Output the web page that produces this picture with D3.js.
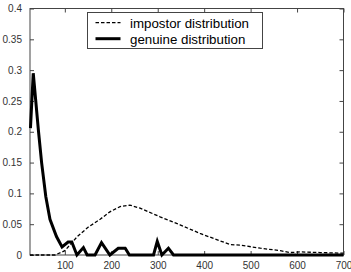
<!DOCTYPE html>
<html>
<head>
<meta charset="utf-8">
<script src="https://cdn.jsdelivr.net/npm/d3@7"></script>
<style>
  body { margin: 0; background: #fff; }
  svg { display: block; font-family: "Liberation Sans", Arial, sans-serif; }
</style>
</head>
<body>
<script>
// impostor distribution (dashed)
var impostorX = [25, 50, 79, 100, 127, 150, 176, 197, 219, 240, 262, 305, 348, 391, 434, 456, 478, 521, 564, 585, 607, 650, 694, 700];
var impostorY = [0, 0, 0, 0.007, 0.03, 0.045, 0.058, 0.07, 0.0785, 0.081, 0.076, 0.062, 0.049, 0.035, 0.023, 0.017, 0.016, 0.011, 0.007, 0.004, 0.005, 0.004, 0.003, 0.003];

// genuine distribution (thick solid)
var genuineX = [26, 32, 43, 50, 59, 68, 82, 94, 107, 115, 126, 140, 148, 165, 179, 197, 215, 230, 239, 291, 299, 309, 323, 334, 700];
var genuineY = [0.206, 0.295, 0.203, 0.15, 0.095, 0.058, 0.03, 0.013, 0.021, 0.021, 0, 0.012, 0, 0, 0.02, 0, 0.011, 0.011, 0, 0, 0.022, 0, 0.011, 0, 0];

var xTicks = [100, 200, 300, 400, 500, 600, 700];
var yTicks = [0, 0.05, 0.1, 0.15, 0.2, 0.25, 0.3, 0.35, 0.4];
var legendLabels = ["impostor distribution", "genuine distribution"];

var width = 351, height = 272;
var margin = {top: 8.5, right: 7.5, bottom: 17, left: 30};

var svg = d3.select("body").append("svg")
  .attr("width", width)
  .attr("height", height);

var x = d3.scaleLinear().domain([25, 700]).range([margin.left, width - margin.right]);
var y = d3.scaleLinear().domain([0, 0.4]).range([height - margin.bottom, margin.top]);

var fmt = function(d) { return d === 0 ? "0" : String(+d.toFixed(2)); };

// box
svg.append("rect")
  .attr("x", x(25)).attr("y", y(0.4))
  .attr("width", x(700) - x(25)).attr("height", y(0) - y(0.4))
  .attr("fill", "none").attr("stroke", "#444").attr("stroke-width", 1);

function styleAxis(g) {
  g.select(".domain").remove();
  g.selectAll(".tick line").attr("stroke", "#444");
  g.selectAll(".tick text").attr("fill", "#333").style("font-size", "10px");
}

svg.append("g")
  .attr("transform", "translate(0," + y(0) + ")")
  .call(d3.axisBottom(x).tickValues(xTicks).tickSize(-4).tickPadding(7).tickFormat(d3.format("d")))
  .call(styleAxis);

svg.append("g")
  .attr("transform", "translate(0," + y(0.4) + ")")
  .call(d3.axisTop(x).tickValues(xTicks).tickSize(-4).tickFormat(""))
  .call(styleAxis);

svg.append("g")
  .attr("transform", "translate(" + x(25) + ",0)")
  .call(d3.axisLeft(y).tickValues(yTicks).tickSize(-4).tickPadding(8).tickFormat(fmt))
  .call(styleAxis);

svg.append("g")
  .attr("transform", "translate(" + x(700) + ",0)")
  .call(d3.axisRight(y).tickValues(yTicks).tickSize(-4).tickFormat(""))
  .call(styleAxis);

var line = d3.line()
  .x(function(d) { return x(d[0]); })
  .y(function(d) { return y(d[1]); });

svg.append("path")
  .datum(d3.zip(impostorX, impostorY))
  .attr("d", line)
  .attr("fill", "none")
  .attr("stroke", "#000")
  .attr("stroke-width", 1.3)
  .attr("stroke-dasharray", "3.5,2");

svg.append("path")
  .datum(d3.zip(genuineX, genuineY))
  .attr("d", line)
  .attr("fill", "none")
  .attr("stroke", "#000")
  .attr("stroke-width", 3)
  .attr("stroke-linejoin", "miter");

// legend
var legend = svg.append("g");
legend.append("rect")
  .attr("x", 87.5).attr("y", 12.5)
  .attr("width", 175).attr("height", 36)
  .attr("fill", "#fff").attr("stroke", "#444").attr("stroke-width", 1);

var items = legend.selectAll(".item")
  .data(legendLabels)
  .enter().append("g")
  .attr("transform", function(d, i) { return "translate(0," + (22.7 + i * 16) + ")"; });

items.append("line")
  .attr("x1", 95.5).attr("x2", 120.5)
  .attr("stroke", "#000")
  .attr("stroke-width", function(d, i) { return i === 0 ? 1.3 : 3; })
  .attr("stroke-dasharray", function(d, i) { return i === 0 ? "3.5,2" : null; });

items.append("text")
  .attr("x", 130).attr("y", 4.8)
  .style("font-size", "13.3px")
  .attr("fill", "#000")
  .text(function(d) { return d; });
</script>
</body>
</html>
